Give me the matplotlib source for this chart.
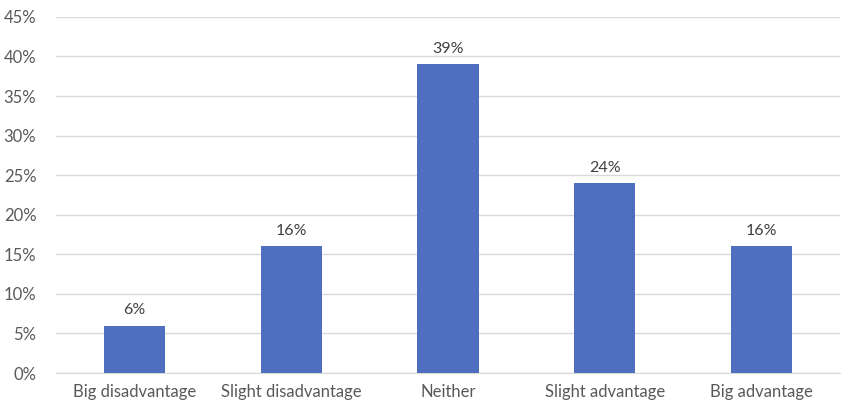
import matplotlib.pyplot as plt
from matplotlib.ticker import FuncFormatter

categories = ["Big disadvantage", "Slight disadvantage", "Neither",
              "Slight advantage", "Big advantage"]
values = [6, 16, 39, 24, 16]
yticks = [0, 5, 10, 15, 20, 25, 30, 35, 40, 45]

plt.rcParams['font.family'] = ['Lato', 'DejaVu Sans']
text_color = '#595959'

fig = plt.figure(figsize=(8.46, 4.07), dpi=100)
ax = fig.add_axes([0.066, 0.0835, 0.927, 0.875])

x = range(len(categories))
bars = ax.bar(x, values, width=0.39, color='#4F6EBF', zorder=3)

for b, v in zip(bars, values):
    ax.annotate(f"{v}%", (b.get_x() + b.get_width() / 2, v),
                xytext=(0, 6), textcoords='offset points',
                ha='center', va='bottom', fontsize=11.5, color='#404040')

ax.set_xlim(-0.5, len(categories) - 0.5)
ax.set_ylim(0, 45)
ax.set_yticks(yticks)
ax.yaxis.set_major_formatter(FuncFormatter(lambda v, p: f"{v:.0f}%"))
ax.set_xticks(list(x))
ax.set_xticklabels(categories)
ax.grid(axis='y', color='#D9D9D9', linewidth=1, zorder=0)

for s in ['top', 'right', 'left']:
    ax.spines[s].set_visible(False)
ax.spines['bottom'].set_color('#D9D9D9')
ax.tick_params(axis='both', length=0, labelsize=12, colors=text_color)
ax.tick_params(axis='x', pad=8)
ax.tick_params(axis='y', pad=14)

fig.savefig('out.png', dpi=100)
